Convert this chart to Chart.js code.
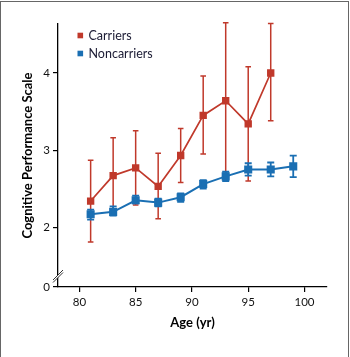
<!DOCTYPE html>
<html>
<head>
<meta charset="utf-8">
<script src="https://cdn.jsdelivr.net/npm/chart.js@4/dist/chart.umd.min.js"></script>
<style>
    html, body { margin: 0; padding: 0; background: #fff; }
    #wrap { position: relative; width: 350px; height: 357px; }
    #frame {
        position: absolute; left: 0; top: 1px; width: 349px; height: 356px;
        box-sizing: border-box;
        border: 1px solid #666; border-bottom: none;
        pointer-events: none;
    }
    canvas { position: absolute; left: 0; top: 0; }
</style>
</head>
<body>
<div id="wrap">
    <canvas id="ageChart" width="350" height="357"></canvas>
    <div id="frame"></div>
</div>
<script>
// --- Data ---
const carrierAges = [81, 83, 85, 87, 89, 91, 93, 95, 97];
const carrierMean = [2.34, 2.67, 2.77, 2.53, 2.93, 3.45, 3.64, 3.34, 4.00];
const carrierHigh = [2.87, 3.16, 3.25, 2.96, 3.28, 3.96, 4.65, 4.08, 4.64];
const carrierLow  = [1.81, 2.19, 2.29, 2.11, 2.58, 2.95, 2.64, 2.60, 3.38];

const noncarrierAges = [81, 83, 85, 87, 89, 91, 93, 95, 97, 99];
const noncarrierMean = [2.17, 2.20, 2.35, 2.32, 2.39, 2.56, 2.66, 2.75, 2.75, 2.79];
const noncarrierHigh = [2.23, 2.27, 2.41, 2.37, 2.44, 2.61, 2.72, 2.83, 2.84, 2.93];
const noncarrierLow  = [2.10, 2.15, 2.31, 2.27, 2.33, 2.50, 2.60, 2.67, 2.66, 2.65];

const seriesLabels = ['Carriers', 'Noncarriers'];
const xTickValues = [80, 85, 90, 95, 100];
const yTickValues = [2, 3, 4];
const yBreakLabel = '0';   // the axis is broken below 2, bottom labelled 0

const RED = '#c0392b';
const BLUE = '#1a6fb3';
const TEXT = '#111';
const Y_MIN = 1.226;   // position of the "0" after the axis break

function toPoints(xs, ys) {
    return xs.map((x, i) => ({ x: x, y: ys[i] }));
}

/**
 * Draws vertical error bars for each dataset, just before the dataset itself.
 */
const errorBarPlugin = {
    id: 'errorBars',
    beforeDatasetDraw(chart, args) {
        const ds = chart.data.datasets[args.index];
        if (!ds.errLow) return;
        const yScale = chart.scales.y;
        const ctx = chart.ctx;
        ctx.save();
        ctx.strokeStyle = ds.borderColor;
        ctx.lineWidth = ds.errWidth;
        args.meta.data.forEach((pt, i) => {
            const yHi = yScale.getPixelForValue(ds.errHigh[i]);
            const yLo = yScale.getPixelForValue(ds.errLow[i]);
            const c = ds.capHalf;
            ctx.beginPath();
            ctx.moveTo(pt.x, yHi);
            ctx.lineTo(pt.x, yLo);
            ctx.moveTo(pt.x - c, yHi);
            ctx.lineTo(pt.x + c, yHi);
            ctx.moveTo(pt.x - c, yLo);
            ctx.lineTo(pt.x + c, yLo);
            ctx.stroke();
        });
        ctx.restore();
    }
};

/**
 * Legend inside the plot (top left) and the axis-break mark.
 */
const decorPlugin = {
    id: 'decor',
    afterDraw(chart) {
        const ctx = chart.ctx;
        const area = chart.chartArea;
        ctx.save();

        // legend
        ctx.font = '12.5px Lato';
        ctx.textBaseline = 'middle';
        ctx.textAlign = 'left';
        seriesLabels.forEach((label, i) => {
            const ds = chart.data.datasets.find(d => d.label === label);
            const cy = area.top + 11.5 + i * 18;
            const sx = area.left + 19.5;
            ctx.fillStyle = ds.borderColor;
            ctx.fillRect(sx, cy - 2.8, 5.6, 5.6);
            ctx.fillStyle = '#1a1a33';
            ctx.fillText(label, sx + 11, cy);
        });

        // axis break marks
        const x0 = area.left;
        const yc = area.bottom - 12;
        ctx.fillStyle = '#fff';
        ctx.beginPath();
        ctx.moveTo(x0 - 4.5, yc + 4.5);
        ctx.lineTo(x0 + 4.5, yc - 4.5);
        ctx.lineTo(x0 + 4.5, yc - 2);
        ctx.lineTo(x0 - 4.5, yc + 7);
        ctx.closePath();
        ctx.fill();
        ctx.strokeStyle = '#333';
        ctx.lineWidth = 1;
        ctx.beginPath();
        ctx.moveTo(x0 - 5, yc + 5);
        ctx.lineTo(x0 + 5, yc - 5);
        ctx.moveTo(x0 - 5, yc + 7.5);
        ctx.lineTo(x0 + 5, yc - 2.5);
        ctx.stroke();

        ctx.restore();
    }
};

const ctx = document.getElementById('ageChart').getContext('2d');
new Chart(ctx, {
    type: 'line',
    data: {
        datasets: [{
            label: seriesLabels[0],
            data: toPoints(carrierAges, carrierMean),
            errLow: carrierLow,
            errHigh: carrierHigh,
            errWidth: 1.5,
            capHalf: 2.8,
            borderColor: RED,
            backgroundColor: RED,
            borderWidth: 1.7,
            pointStyle: 'rect',
            pointRadius: 4,
            order: 1
        }, {
            label: seriesLabels[1],
            data: toPoints(noncarrierAges, noncarrierMean),
            errLow: noncarrierLow,
            errHigh: noncarrierHigh,
            errWidth: 1.8,
            capHalf: 3.5,
            borderColor: BLUE,
            backgroundColor: BLUE,
            borderWidth: 2,
            pointStyle: 'rect',
            pointRadius: 4.3,
            order: 0
        }]
    },
    options: {
        responsive: false,
        animation: false,
        clip: false,
        layout: { padding: { left: 0, right: 23, top: 24, bottom: 0 } },
        plugins: {
            legend: { display: false },
            tooltip: { enabled: false }
        },
        scales: {
            x: {
                type: 'linear',
                min: 78.1,
                max: 102,
                afterBuildTicks: (scale) => {
                    scale.ticks = xTickValues.map(v => ({ value: v }));
                },
                afterFit: (scale) => { scale.height = 70; },
                grid: { drawOnChartArea: false, drawTicks: true, tickLength: 5, color: '#000', lineWidth: 1.2 },
                border: { display: true, color: '#000', width: 1.3 },
                ticks: { color: TEXT, font: { family: 'Lato', size: 11.5 }, padding: 3, maxRotation: 0 },
                title: {
                    display: true,
                    text: 'Age (yr)',
                    color: '#000',
                    font: { family: 'Lato', size: 13, weight: 'bold' },
                    padding: { top: 0, bottom: 26.2 }
                }
            },
            y: {
                type: 'linear',
                min: Y_MIN,
                max: 4.635,
                afterBuildTicks: (scale) => {
                    scale.ticks = [Y_MIN].concat(yTickValues).map(v => ({ value: v }));
                },
                afterFit: (scale) => { scale.width = 58; },
                grid: { drawOnChartArea: false, drawTicks: true, tickLength: 5, color: '#000', lineWidth: 1.2 },
                border: { display: true, color: '#000', width: 1.3 },
                ticks: {
                    color: TEXT,
                    font: { family: 'Lato', size: 11.5 },
                    padding: 3,
                    callback: (value) => value === Y_MIN ? yBreakLabel : String(value)
                },
                title: {
                    display: true,
                    text: 'Cognitive Performance Scale',
                    color: '#000',
                    font: { family: 'Lato', size: 13, weight: 'bold' },
                    padding: { top: 20.2, bottom: 0 }
                }
            }
        }
    },
    plugins: [errorBarPlugin, decorPlugin]
});
</script>
</body>
</html>
